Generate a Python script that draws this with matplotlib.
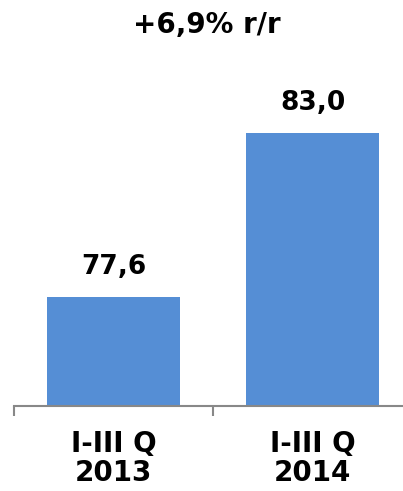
import matplotlib
matplotlib.use('Agg')
import matplotlib.pyplot as plt

categories = ['I-III Q\n2013', 'I-III Q\n2014']
values = [77.6, 83.0]
value_labels = ['77,6', '83,0']
title = '+6,9% r/r'

W, H = 403, 491
fig = plt.figure(figsize=(W / 100, H / 100), dpi=100)
ax = fig.add_axes([14 / W, (H - 406) / H, 398 / W, (406 - 60) / H])

x = range(len(values))
ax.bar(x, values, width=0.668, color='#558ED5', zorder=2)
ax.set_xlim(-0.5, 1.5)
ax.set_ylim(74.0, 85.4)

for xi, v, lab in zip(x, values, value_labels):
    ax.annotate(lab, (xi, v), xytext=(0, 17), textcoords='offset pixels',
                ha='center', va='bottom', fontsize=19, fontweight='bold')

for s in ['top', 'right', 'left']:
    ax.spines[s].set_visible(False)
ax.spines['bottom'].set_color('#888888')
ax.spines['bottom'].set_linewidth(1.5)
ax.set_yticks([])
ax.set_xticks(list(x))
ax.set_xticklabels(categories, fontsize=20, fontweight='bold', linespacing=1.08)
ax.tick_params(axis='x', which='major', length=0, pad=17)
# category separators (the right one falls outside the picture)
ax.set_xticks([-0.5, 0.5], minor=True)
ax.tick_params(axis='x', which='minor', length=7, width=1.5, color='#888888', direction='out')

fig.text(207 / W, 1 - 25 / H, title, ha='center', va='center', fontsize=20, fontweight='bold')

fig.savefig('out.png', dpi=100)
